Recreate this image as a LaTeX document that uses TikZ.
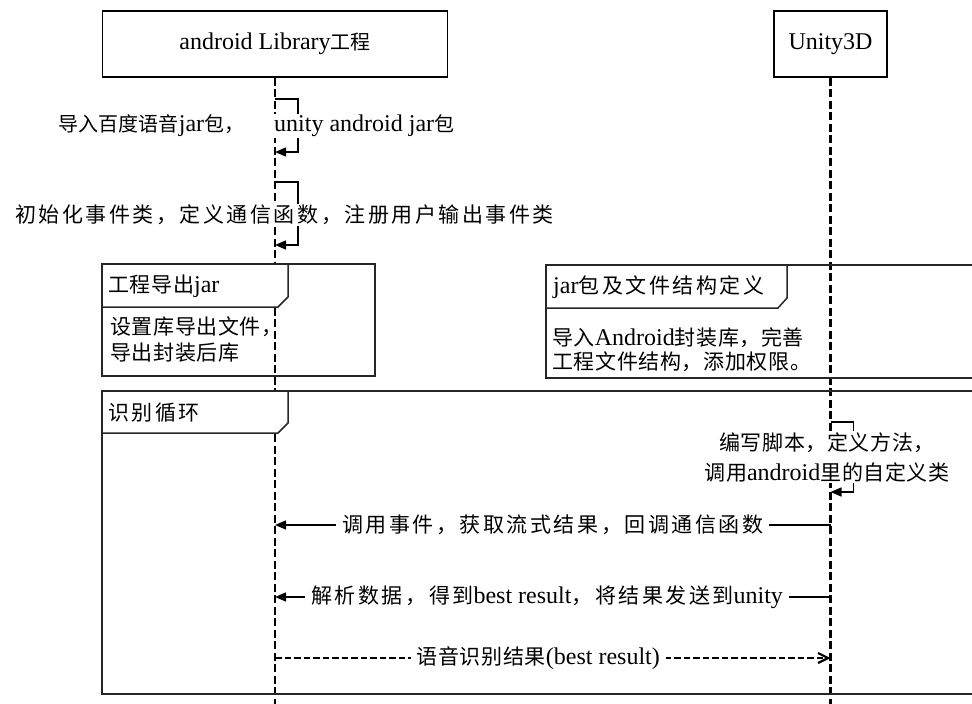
\documentclass[tikz,border=0pt]{standalone}
\usepackage{fontspec}
\setmainfont{Liberation Serif}
\newfontfamily\cjkA{Noto Sans CJK SC}
\newfontfamily\cjkB[LetterSpace=3]{Noto Sans CJK SC}
\newfontfamily\cjkC[LetterSpace=12]{Noto Sans CJK SC}
\usetikzlibrary{arrows.meta}
\newcommand\za[1]{{\cjkA\fontsize{20}{22}\selectfont #1}}
\newcommand\zb[1]{{\cjkB\fontsize{21}{22}\selectfont #1}}
\newcommand\zc[1]{{\cjkC\fontsize{21}{22}\selectfont #1}}
\begin{document}
\begin{tikzpicture}[x=1pt,y=-1pt,
  actor/.style={draw,line width=1.5pt,minimum height=66pt,inner sep=0pt,font=\fontsize{24}{28}\selectfont},
  lifeline/.style={line width=2.2pt,dash pattern=on 8pt off 3.5pt},
  msg/.style={line width=1.5pt,-{Triangle[length=11pt,width=9pt]}},
  reply/.style={line width=2.2pt,dash pattern=on 6.5pt off 3pt,-{Straight Barb[length=10pt,width=10pt]}},
  lbl/.style={fill=white,inner xsep=6pt,inner ysep=1pt,font=\fontsize{24}{28}\selectfont},
  slbl/.style={lbl,inner xsep=2pt,align=center},
  frm/.style={line width=1.5pt,draw=black!85},
  hdr/.style={frm,fill=white},
  ftext/.style={anchor=west,inner sep=0pt,font=\fontsize{24}{26}\selectfont,align=left},
]
\useasboundingbox (0,0) rectangle (972,704);
% actors
\node[actor,minimum width=345pt] (A) at (275,44) {android Library\za{工程}};
\node[actor,minimum width=113pt] (U) at (830.5,44) {Unity3D};
\coordinate (Aend) at (275,704);
\coordinate (Uend) at (830.5,704);
\draw[lifeline] (A.south) -- (Aend);
\draw[lifeline] (U.south) -- (Uend);
% self message 1
\coordinate (s1a) at (275,99);
\coordinate (s1b) at (275,152);
\draw[msg] (s1a) -- ++(23,0) -- ++(0,53) -- (s1b);
\node[slbl] (l1) at (256.5,126) {\za{导入百度语音}jar\za{包，}\hspace{30pt}unity android jar\za{包}};
% self message 2
\coordinate (s2a) at (275,182);
\coordinate (s2b) at (275,245);
\draw[msg] (s2a) -- ++(23,0) -- ++(0,63) -- (s2b);
\node[slbl] (l2) at (284.5,215) {\zc{初始化事件类，定义通信函数，注册用户输出事件类}};
% frame 1
\draw[frm] (102,264) rectangle (375,376);
\draw[hdr] (102,264) -- (288,264) -- (288,297) -- (278,307) -- (102,307) -- cycle;
\node[ftext] (f1t) at (108,286) {\zb{工程导出}jar};
\node[ftext,font=\fontsize{24}{26}\selectfont] (f1b) at (110,339) {\zb{设置库导出文件，}\\\zb{导出封装后库}};
% frame 2
\draw[frm] (972,265) -- (546,265) -- (546,378) -- (972,378);
\draw[hdr] (546,265) -- (787,265) -- (787,298) -- (778,308) -- (546,308) -- cycle;
\node[ftext] (f2t) at (553,287) {jar\zc{包及文件结构定义}};
\node[ftext,font=\fontsize{24}{24}\selectfont] (f2b) at (552,350) {\zb{导入}Android\zb{封装库，完善}\\\zb{工程文件结构，添加权限。}};
% frame 3
\draw[frm] (972,391) -- (102,391) -- (102,694) -- (972,694);
\draw[hdr] (102,391) -- (288,391) -- (288,423) -- (278,433) -- (102,433) -- cycle;
\node[ftext] (f3t) at (108,413) {\zc{识别循环}};
% self message 3
\coordinate (s3a) at (830.5,422);
\coordinate (s3b) at (830.5,492);
\draw[msg] (s3a) -- ++(23,0) -- ++(0,70) -- (s3b);
\node[slbl,font=\fontsize{24}{30}\selectfont] (l3) at (827,457) {\zb{编写脚本，定义方法，}\\\zb{调用}android\zb{里的自定义类}};
% messages
\coordinate (m4u) at (830.5,525);
\coordinate (m4a) at (275,525);
\draw[msg] (m4u) -- node[lbl] (l4) {\zc{调用事件，获取流式结果，回调通信函数}} (m4a);
\coordinate (m5u) at (830.5,597);
\coordinate (m5a) at (275,597);
\draw[msg] (m5u) -- node[lbl,pos=0.51] (l5) {\zc{解析数据，得到}best result\zc{，将结果发送到}unity} (m5a);
\coordinate (m6a) at (275,658);
\coordinate (m6u) at (830.5,658);
\draw[reply] (m6a) -- node[lbl,pos=0.474] (l6) {\zb{语音识别结果}(best result)} (m6u);
\end{tikzpicture}
\end{document}
